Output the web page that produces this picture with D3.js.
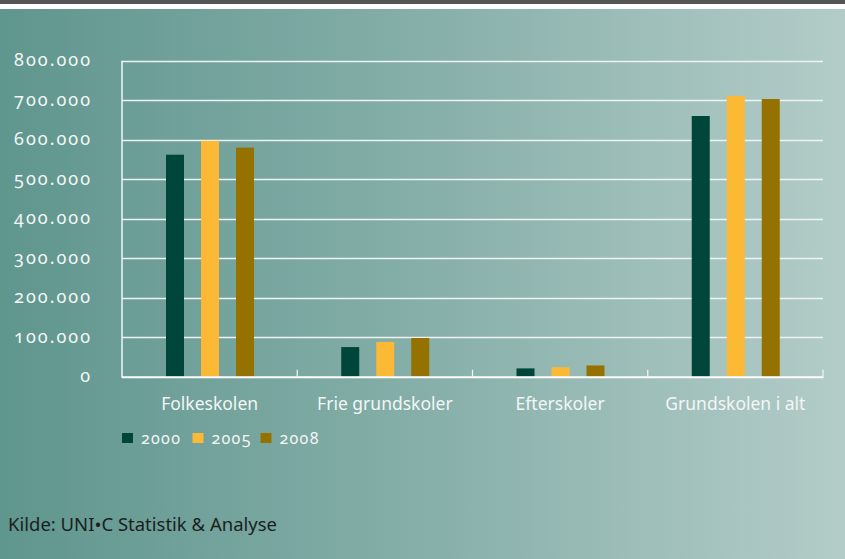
<!DOCTYPE html>
<html><head><meta charset="utf-8">
<script src="https://cdn.jsdelivr.net/npm/d3@7"></script>
<style>
html,body{margin:0;padding:0;background:#fff;}
svg{display:block;}
text{font-family:"Noto Sans","Open Sans",sans-serif;}
</style></head>
<body>
<script>
const categories = ["Folkeskolen", "Frie grundskoler", "Efterskoler", "Grundskolen i alt"];
const seriesNames = ["2000", "2005", "2008"];
const values2000 = [562000, 75000, 21000, 660000];
const values2005 = [597000, 88000, 24000, 711000];
const values2008 = [580000, 98000, 28500, 703000];
const seriesColors = ["#00453a", "#fbb935", "#957200"];
const yTicks = [0, 100000, 200000, 300000, 400000, 500000, 600000, 700000, 800000];
const sourceText = "Kilde: UNI\u2022C Statistik & Analyse";

(function () {
const W = 845, H = 559;
const svg = d3.select("body").append("svg").attr("width", W).attr("height", H);
const defs = svg.append("defs");
const grad = defs.append("linearGradient").attr("id", "bg").attr("x1", "0").attr("x2", "1").attr("y1", "0").attr("y2", "0");
grad.append("stop").attr("offset", "0").attr("stop-color", "#5f968e");
grad.append("stop").attr("offset", "0.5").attr("stop-color", "#86afa9");
grad.append("stop").attr("offset", "1").attr("stop-color", "#b3ccc8");

svg.append("rect").attr("x", 0).attr("y", 0).attr("width", W).attr("height", 4).attr("fill", "#555555");
svg.append("rect").attr("x", 0).attr("y", 9).attr("width", W).attr("height", H - 9).attr("fill", "url(#bg)");

const pLeft = 122, pRight = 823, pTop = 60.7, pBottom = 376.7;
const x0 = d3.scaleBand().domain(categories).range([pLeft, pRight]);
const y = d3.scaleLinear().domain([0, 800000]).range([pBottom, pTop]);
const x1 = d3.scaleBand().domain(seriesNames).range([44, 132]).paddingInner(17/35).paddingOuter(0);

// gridlines
svg.append("g").selectAll("line").data(yTicks.slice(1)).join("line")
  .attr("x1", pLeft).attr("x2", pRight)
  .attr("y1", d => Math.round(y(d)) + 0.5).attr("y2", d => Math.round(y(d)) + 0.5)
  .attr("stroke", "#eef3f2").attr("stroke-width", 1.4);

// y axis labels
svg.append("g").selectAll("text").data(yTicks).join("text")
  .attr("x", 92).attr("y", d => y(d) + 5.5)
  .attr("text-anchor", "end")
  .attr("fill", "#f3f6f5")
  .style("font-size", "18px")
  .style("letter-spacing", "2px")
  .style("font-variant-numeric", "oldstyle-nums")
  .text(d => d === 0 ? "0" : d3.format(",")(d).replace(/,/g, "."));

// bars
const series = [values2000, values2005, values2008];
const g = svg.append("g");
categories.forEach((c, i) => {
  seriesNames.forEach((s, j) => {
    g.append("rect")
      .attr("x", x0(c) + x1(s))
      .attr("width", x1.bandwidth())
      .attr("y", y(series[j][i]))
      .attr("height", pBottom - y(series[j][i]))
      .attr("fill", seriesColors[j]);
  });
});

// axes lines
svg.append("line").attr("x1", pLeft).attr("x2", pLeft).attr("y1", pTop).attr("y2", pBottom + 1)
  .attr("stroke", "#f4f7f6").attr("stroke-width", 1.5);
svg.append("line").attr("x1", pLeft).attr("x2", pRight + 0.5).attr("y1", pBottom + 0.5).attr("y2", pBottom + 0.5)
  .attr("stroke", "#ffffff").attr("stroke-width", 2);
// category ticks
const tickXs = categories.map(c => x0(c) + x0.bandwidth());
svg.append("g").selectAll("line").data(tickXs).join("line")
  .attr("x1", d => d).attr("x2", d => d).attr("y1", pBottom - 7).attr("y2", pBottom)
  .attr("stroke", "#f4f7f6").attr("stroke-width", 1.2);

// category labels
svg.append("g").selectAll("text").data(categories).join("text")
  .attr("x", d => x0(d) + x0.bandwidth() / 2).attr("y", 410)
  .attr("text-anchor", "middle")
  .attr("fill", "#f3f6f5")
  .style("font-size", "17.5px")
  .text(d => d);

// legend
const legendX = [122, 192.5, 260.5];
const lg = svg.append("g");
seriesNames.forEach((s, j) => {
  lg.append("rect").attr("x", legendX[j]).attr("y", 433).attr("width", 11).attr("height", 10).attr("fill", seriesColors[j]);
  lg.append("text").attr("x", legendX[j] + 19).attr("y", 443.5)
    .attr("fill", "#f3f6f5")
    .style("font-size", "16px")
    .style("letter-spacing", "1.3px")
    .style("font-variant-numeric", "oldstyle-nums")
    .text(s);
});

// source
svg.append("text").attr("x", 8).attr("y", 531)
  .attr("fill", "#1b1f1e")
  .style("font-size", "18.5px")
  .text(sourceText);
})();
</script>
</body></html>
